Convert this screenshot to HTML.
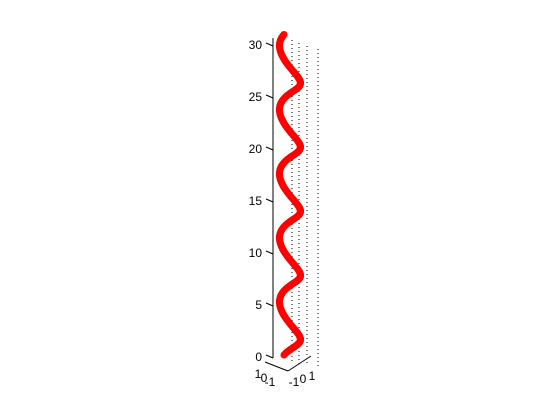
<!DOCTYPE html>
<html><head><meta charset="utf-8"><style>
html,body{margin:0;padding:0;background:#fff;}
svg{display:block;font-family:"Liberation Sans",sans-serif;}
</style></head><body>
<svg id="chart" width="560" height="420">
<g id="grid"></g>
<g id="axes"></g>
<g id="series"></g>
</svg>
<script>
const zTicks=[0,5,10,15,20,25,30];
const tStart=0, tEnd=10*Math.PI, nPoints=420;
const xTickLabels=["1","0","-1"];
const yTickLabels=["-1","0","1"];
const NS="http://www.w3.org/2000/svg";
function el(tag,attrs,parent){const e=document.createElementNS(NS,tag);for(const k in attrs)e.setAttribute(k,attrs[k]);parent.appendChild(e);return e;}
function zY(z){return 357-z*10.4;}
function px(x,y){return 290+8.6*x-6*y;}
function py(x,y,z){return 357-z*10.2+0.5*x-4*y+2;}
const axes=document.getElementById('axes'),grid=document.getElementById('grid'),series=document.getElementById('series');
[292,299,307,318].forEach((gx,i)=>{const l=el('line',{x1:gx,y1:40+i*3,x2:gx,y2:362+i*2,stroke:'#000','stroke-width':1,'stroke-dasharray':'1,3'},grid);

});
const za=el('line',{x1:273,y1:38,x2:273,y2:358,stroke:'#000','stroke-width':1},axes);


zTicks.forEach(z=>{const y=zY(z);
const t=el('line',{x1:273,y1:y+1,x2:266,y2:y-2,stroke:'#000','stroke-width':1},axes);


const tx=el('text',{x:262,y:y+4,'text-anchor':'end','font-size':12},axes);tx.textContent=z;

});
[[265,362,288,371],[288,371,311,356]].forEach(a=>{const l=el('line',{x1:a[0],y1:a[1],x2:a[2],y2:a[3],stroke:'#000','stroke-width':1},axes);

});
xTickLabels.forEach((s,i)=>{const tx=el('text',{x:258+i*6,y:378+i*4,'text-anchor':'middle','font-size':12},axes);tx.textContent=s;

});
yTickLabels.forEach((s,i)=>{const tx=el('text',{x:294+i*9,y:386-i*3,'text-anchor':'middle','font-size':12},axes);tx.textContent=s;

});
for(let i=0;i<=nPoints;i++){const t=tStart+(tEnd-tStart)*i/nPoints;
const x=Math.sin(t),y=Math.cos(t);
const c=el('circle',{cx:px(x,y),cy:py(x,y,t),r:3,fill:'none',stroke:'#f00','stroke-width':1.1},series);

}
</script>
</body></html>
